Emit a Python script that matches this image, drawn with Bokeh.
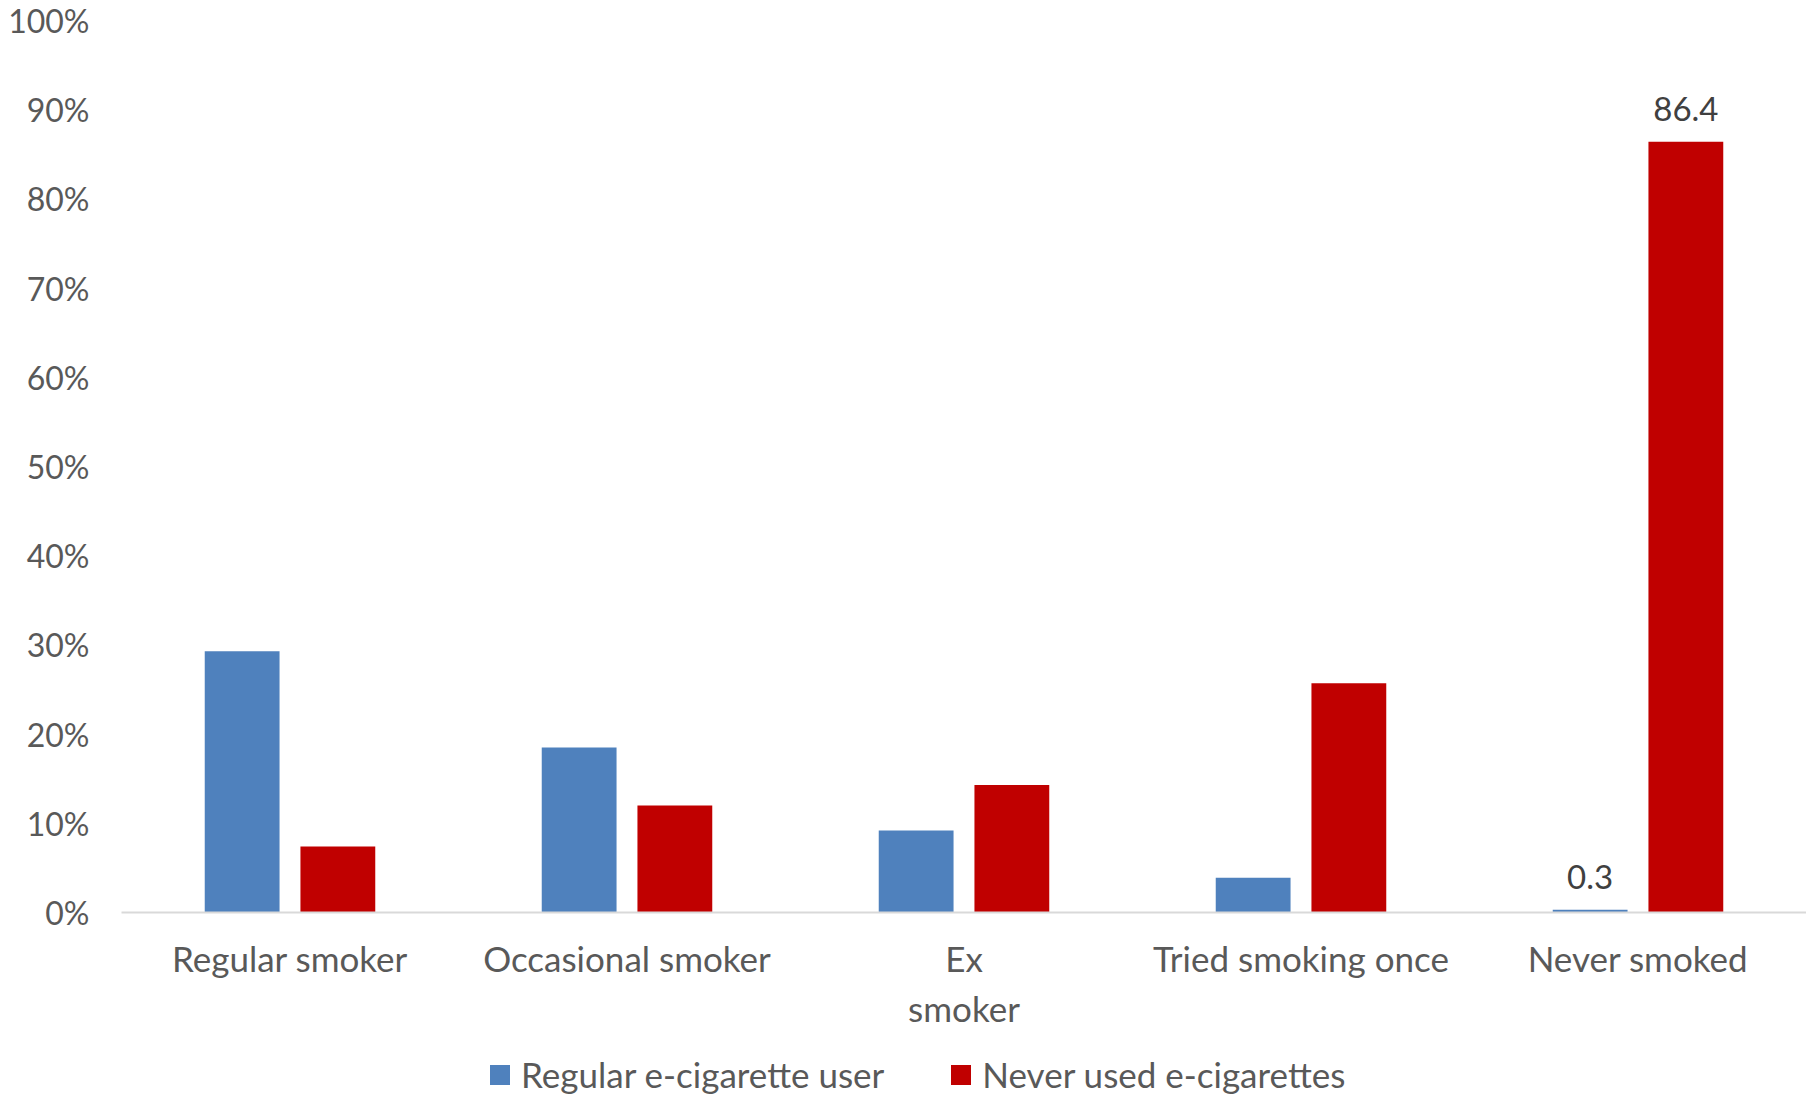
from bokeh.plotting import figure
from bokeh.layouts import column
from bokeh.models import ColumnDataSource, Legend, LegendItem, FixedTicker, PrintfTickFormatter, Range1d
from bokeh.transform import dodge
from bokeh.core.properties import value
from bokeh.embed import file_html
from bokeh.resources import INLINE

categories = ["Regular smoker", "Occasional smoker", "Ex\nsmoker", "Tried smoking once", "Never smoked"]
regular_ecig = [29.3, 18.5, 9.2, 3.9, 0.3]
never_ecig = [7.4, 12.0, 14.3, 25.7, 86.4]
series_names = ["Regular e-cigarette user", "Never used e-cigarettes"]
label_cats = ["Never smoked"]
label_regular = [0.3]
label_never = [86.4]
y_ticks = [0, 10, 20, 30, 40, 50, 60, 70, 80, 90, 100]

FONT = "Lato"
BLUE = "#4f81bd"
RED = "#c00000"
GREY = "#595959"

src = ColumnDataSource(dict(cat=categories, reg=regular_ecig, nev=never_ecig))

p = figure(x_range=categories, y_range=(0, 100), width=1806, height=1040,
           output_backend="svg", toolbar_location=None,
           min_border_left=121, min_border_right=0, min_border_top=20, min_border_bottom=128)
p.x_range.range_padding = 0
p.outline_line_color = None
p.xgrid.grid_line_color = None
p.ygrid.grid_line_color = None
p.background_fill_color = "white"
p.border_fill_color = "white"

off = 0.142
bw = 0.222
p.vbar(x=dodge("cat", -off, range=p.x_range), top="reg", width=bw, source=src,
       fill_color=BLUE, line_color=None)
p.vbar(x=dodge("cat", off, range=p.x_range), top="nev", width=bw, source=src,
       fill_color=RED, line_color=None)

lsrc1 = ColumnDataSource(dict(cat=label_cats, y=label_regular, t=[str(v) for v in label_regular]))
lsrc2 = ColumnDataSource(dict(cat=label_cats, y=label_never, t=[str(v) for v in label_never]))
for s, o in ((lsrc1, -off), (lsrc2, off)):
    p.text(x=dodge("cat", o, range=p.x_range), y="y", text="t", source=s,
           text_font=value(FONT), text_font_size="33px", text_color="#404040",
           text_align="center", text_baseline="bottom", y_offset=-21)

p.yaxis.ticker = FixedTicker(ticks=y_ticks)
p.yaxis.formatter = PrintfTickFormatter(format="%d%%")
p.yaxis.axis_line_color = None
p.yaxis.major_tick_line_color = None
p.yaxis.minor_tick_line_color = None
p.yaxis.major_tick_out = 0
p.yaxis.major_label_standoff = 32
p.yaxis.major_label_text_font = FONT
p.yaxis.major_label_text_font_size = "32px"
p.yaxis.major_label_text_color = GREY

p.xaxis.axis_line_color = "#d9d9d9"
p.xaxis.axis_line_width = 2
p.xaxis.major_tick_line_color = None
p.xaxis.minor_tick_line_color = None
p.xaxis.major_tick_out = 0
p.xaxis.major_label_standoff = 24
p.xaxis.major_label_text_font = FONT
p.xaxis.major_label_text_font_size = "35px"
p.xaxis.major_label_text_color = GREY

# legend strip below the chart (its bars lie outside its visible y range)
lf = figure(width=1806, height=55, x_range=categories, y_range=Range1d(1000, 1001),
            output_backend="svg", toolbar_location=None,
            x_axis_location=None, y_axis_location=None,
            min_border_left=0, min_border_right=0, min_border_top=0, min_border_bottom=0)
lf.outline_line_color = None
lf.xgrid.grid_line_color = None
lf.ygrid.grid_line_color = None
lr1 = lf.vbar(x="cat", top="reg", width=bw, source=src, fill_color=BLUE, line_color=None)
lr2 = lf.vbar(x="cat", top="nev", width=bw, source=src, fill_color=RED, line_color=None)
legend = Legend(items=[LegendItem(label=series_names[0], renderers=[lr1]),
                       LegendItem(label=series_names[1], renderers=[lr2])],
                orientation="horizontal", location=(366, 0),
                glyph_width=25, glyph_height=25, label_standoff=9, spacing=64,
                padding=0, margin=0, border_line_color=None, background_fill_alpha=0,
                label_text_font=FONT, label_text_font_size="35px", label_text_color=GREY)
lf.add_layout(legend, "center")

open("out.html", "w").write(file_html(column(p, lf, spacing=0), INLINE))
